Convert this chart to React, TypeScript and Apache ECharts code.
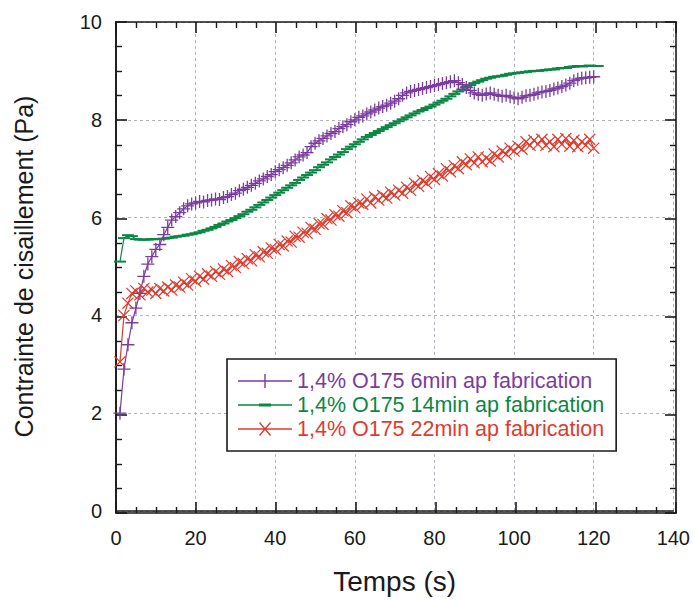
import React, { useEffect, useRef } from "react";
import * as echarts from "echarts";

const timeS = [
  1, 2, 3, 4, 5, 6, 7, 8, 9, 10, 11, 12, 13, 14, 15, 16, 17, 18, 19, 20,
  21, 22, 23, 24, 25, 26, 27, 28, 29, 30, 31, 32, 33, 34, 35, 36, 37, 38, 39, 40,
  41, 42, 43, 44, 45, 46, 47, 48, 49, 50, 51, 52, 53, 54, 55, 56, 57, 58, 59, 60,
  61, 62, 63, 64, 65, 66, 67, 68, 69, 70, 71, 72, 73, 74, 75, 76, 77, 78, 79, 80,
  81, 82, 83, 84, 85, 86, 87, 88, 89, 90, 91, 92, 93, 94, 95, 96, 97, 98, 99, 100,
  101, 102, 103, 104, 105, 106, 107, 108, 109, 110, 111, 112, 113, 114, 115, 116, 117, 118, 119, 120,
  121,
];

const purple6min = [
  2.0, 2.9, 3.4, 3.85, 4.15, 4.45, 4.8, 5.05, 5.2, 5.35, 5.45, 5.65, 5.8, 5.95, 6.02, 6.1, 6.18, 6.24, 6.28, 6.3,
  6.33, 6.32, 6.35, 6.36, 6.38, 6.37, 6.41, 6.43, 6.47, 6.5, 6.55, 6.58, 6.62, 6.66, 6.7, 6.75, 6.79, 6.84, 6.88, 6.94,
  6.98, 7.02, 7.07, 7.12, 7.18, 7.24, 7.28, 7.33, 7.45, 7.52, 7.57, 7.62, 7.67, 7.72, 7.76, 7.82, 7.86, 7.9, 7.96, 8.0,
  8.05, 8.08, 8.12, 8.16, 8.2, 8.24, 8.27, 8.3, 8.34, 8.38, 8.43, 8.5, 8.55, 8.58, 8.6, 8.62, 8.64, 8.66, 8.68, 8.7,
  8.72, 8.74, 8.76, 8.78, 8.8, 8.76, 8.72, 8.66, 8.6, 8.55, 8.52, 8.5, 8.53, 8.55, 8.52, 8.5, 8.48, 8.5, 8.47, 8.45,
  8.43, 8.46, 8.49, 8.5, 8.52, 8.55, 8.57, 8.58, 8.6, 8.63, 8.65, 8.68, 8.71, 8.75, 8.8, 8.83, 8.85, 8.86, 8.87, 8.88,
];

const green14min = [
  5.1, 5.58, 5.64, 5.62, 5.56, 5.55, 5.55, 5.55, 5.56, 5.56, 5.56, 5.57, 5.58, 5.59, 5.61, 5.62, 5.63, 5.65, 5.66, 5.68,
  5.7, 5.73, 5.75, 5.78, 5.81, 5.85, 5.88, 5.92, 5.95, 5.99, 6.03, 6.07, 6.12, 6.16, 6.21, 6.26, 6.31, 6.36, 6.41, 6.46,
  6.51, 6.56, 6.61, 6.66, 6.71, 6.77, 6.82, 6.87, 6.92, 6.97, 7.03, 7.08, 7.13, 7.19, 7.24, 7.29, 7.34, 7.4, 7.45, 7.5,
  7.55, 7.6, 7.65, 7.69, 7.73, 7.77, 7.81, 7.85, 7.89, 7.93, 7.97, 8.01, 8.05, 8.09, 8.13, 8.17, 8.2, 8.24, 8.27, 8.31,
  8.35, 8.39, 8.43, 8.48, 8.53, 8.58, 8.62, 8.67, 8.71, 8.75, 8.78, 8.81, 8.84, 8.86, 8.88, 8.89, 8.9, 8.92, 8.94, 8.95,
  8.96, 8.97, 8.98, 8.99, 9.0, 9.0, 9.01, 9.02, 9.03, 9.03, 9.05, 9.06, 9.06, 9.08, 9.09, 9.1, 9.09, 9.1, 9.11, 9.1,
  9.1,
];

const red22min = [
  3.05, 4.0, 4.25, 4.45, 4.5, 4.42, 4.55, 4.48, 4.52, 4.45, 4.55, 4.5, 4.58, 4.52, 4.62, 4.58, 4.68, 4.62, 4.75, 4.7,
  4.8, 4.74, 4.85, 4.8, 4.9, 4.84, 4.95, 4.9, 5.02, 4.98, 5.1, 5.06, 5.16, 5.12, 5.24, 5.2, 5.3, 5.27, 5.38, 5.35,
  5.45, 5.42, 5.52, 5.5, 5.62, 5.6, 5.7, 5.68, 5.8, 5.76, 5.88, 5.86, 5.98, 5.95, 6.06, 6.03, 6.14, 6.1, 6.24, 6.2,
  6.3, 6.27, 6.38, 6.3, 6.42, 6.36, 6.45, 6.4, 6.52, 6.46, 6.56, 6.5, 6.62, 6.56, 6.7, 6.64, 6.76, 6.7, 6.84, 6.78,
  6.9, 6.85, 7.0, 6.94, 7.06, 7.0, 7.14, 7.08, 7.2, 7.12, 7.24, 7.14, 7.22, 7.16, 7.3, 7.24, 7.36, 7.3, 7.42, 7.36,
  7.46, 7.4, 7.55, 7.48, 7.58, 7.5, 7.6, 7.48, 7.55, 7.45, 7.6, 7.5, 7.62, 7.46, 7.58, 7.45, 7.55, 7.48, 7.6, 7.42,
];

const seriesNames = [
  "1,4% O175 6min ap fabrication",
  "1,4% O175 14min ap fabrication",
  "1,4% O175 22min ap fabrication",
];

const xTitle = "Temps (s)";
const yTitle = "Contrainte de cisaillement (Pa)";

const PURPLE = "#7b3c9f";
const GREEN = "#0a8744";
const RED = "#dd3c2e";
const AXIS = "#1a1a1a";
const FONT = "'Liberation Sans', Arial, Helvetica, sans-serif";

const PLUS = "path://M-1,-10 H1 V10 H-1 Z M-10,-1 H10 V1 H-10 Z";
const CROSS =
  "path://M-10,-8.6 L-8.6,-10 L10,8.6 L8.6,10 Z M8.6,-10 L10,-8.6 L-8.6,10 L-10,8.6 Z";
const DASH = "path://M-10,-1 H10 V1 H-10 Z";

const LEG_PLUS = "path://M0,6.3 H54 V7.7 H0 Z M26.3,0 H27.7 V14 H26.3 Z";
const LEG_DASH = "path://M0,6.3 H54 V7.7 H0 Z M21,5.5 H33 V8.5 H21 Z";
const LEG_CROSS =
  "path://M0,6.3 H54 V7.7 H0 Z M21,1 L22,0 L33,13 L32,14 Z M32,0 L33,1 L22,14 L21,13 Z";

function pairs(ys: number[]) {
  return ys.map((v, i) => [timeS[i], v]);
}

function frameAxis() {
  return {
    axisLine: { show: true, lineStyle: { color: AXIS, width: 1.6 } },
    axisTick: { show: true, inside: true, length: 11, lineStyle: { color: AXIS, width: 1.6 } },
    minorTick: { show: true, splitNumber: 4, length: 6, lineStyle: { color: AXIS, width: 1.4 } },
    axisLabel: { show: false },
    splitLine: { show: false },
  };
}

export default function App() {
  const ref = useRef<HTMLDivElement>(null);
  useEffect(() => {
    if (!ref.current) return;
    const chart = echarts.init(ref.current, null, { renderer: "svg" });
    const gridLine = {
      show: true,
      lineStyle: { color: "#b3b3bb", type: [3, 3] as any, width: 1 },
    };
    const lineSeries = (
      name: string,
      ys: number[],
      color: string,
      symbol: string,
      size: any
    ) => ({
      name,
      type: "line" as const,
      xAxisIndex: 0,
      yAxisIndex: 0,
      data: pairs(ys),
      symbol,
      symbolSize: size,
      showAllSymbol: true,
      itemStyle: { color },
      lineStyle: { color, width: 1.2 },
      emphasis: { disabled: true },
    });
    const plotBox = { left: 116, right: 17, top: 22, bottom: 87 };
    chart.setOption({
      animation: false,
      backgroundColor: "#ffffff",
      textStyle: { fontFamily: FONT },
      // grid 0: data, labels, titles, dashed grid; grid 1 (same box): the four
      // framing axes with inward major/minor ticks.
      grid: [{ ...plotBox }, { ...plotBox }],
      xAxis: [
        {
          type: "value",
          gridIndex: 0,
          min: 0,
          max: 140,
          interval: 20,
          position: "bottom",
          axisLine: { show: true, lineStyle: { color: AXIS, width: 1.6 } },
          axisTick: { show: false },
          minorTick: { show: false },
          name: xTitle,
          nameLocation: "middle",
          nameGap: 56,
          nameTextStyle: { fontSize: 28, color: AXIS, fontFamily: FONT },
          axisLabel: { show: true, fontSize: 20, color: AXIS, margin: 17, fontFamily: FONT },
          splitLine: gridLine,
        },
        {
          type: "value",
          gridIndex: 1,
          min: -140,
          max: 0,
          interval: 20,
          position: "top",
          ...frameAxis(),
        },
        {
          type: "value",
          gridIndex: 1,
          min: 0,
          max: 140,
          interval: 20,
          position: "bottom",
          ...frameAxis(),
        },
      ],
      yAxis: [
        {
          type: "value",
          gridIndex: 0,
          min: 0,
          max: 10,
          interval: 2,
          position: "left",
          axisLine: { show: true, lineStyle: { color: AXIS, width: 1.6 } },
          axisTick: { show: false },
          minorTick: { show: false },
          name: yTitle,
          nameLocation: "middle",
          nameGap: 80,
          nameTextStyle: { fontSize: 25, color: AXIS, fontFamily: FONT },
          axisLabel: { show: true, fontSize: 20, color: AXIS, margin: 14, fontFamily: FONT },
          splitLine: gridLine,
        },
        {
          type: "value",
          gridIndex: 1,
          min: -10,
          max: 0,
          interval: 2,
          position: "right",
          ...frameAxis(),
        },
        {
          type: "value",
          gridIndex: 1,
          min: 0,
          max: 10,
          interval: 2,
          position: "left",
          ...frameAxis(),
        },
      ],
      legend: {
        show: true,
        orient: "vertical",
        left: 227,
        top: 359,
        itemWidth: 54,
        itemHeight: 14,
        itemGap: 2,
        symbolKeepAspect: true,
        padding: [11, 12, 11, 11],
        borderColor: AXIS,
        borderWidth: 1.6,
        backgroundColor: "#ffffff",
        textStyle: { fontSize: 21.5, fontFamily: FONT },
        data: [
          { name: seriesNames[0], icon: LEG_PLUS, textStyle: { color: PURPLE } },
          { name: seriesNames[1], icon: LEG_DASH, textStyle: { color: GREEN } },
          { name: seriesNames[2], icon: LEG_CROSS, textStyle: { color: RED } },
        ],
        selectedMode: false,
      },
      series: [
        lineSeries(seriesNames[2], red22min, RED, CROSS, 12),
        lineSeries(seriesNames[1], green14min, GREEN, DASH, [12, 2]),
        lineSeries(seriesNames[0], purple6min, PURPLE, PLUS, 13),
      ],
    });
    return () => chart.dispose();
  }, []);
  return (
    <div
      ref={ref}
      style={{ position: "absolute", left: 0, top: 0, width: 693, height: 600 }}
    />
  );
}
